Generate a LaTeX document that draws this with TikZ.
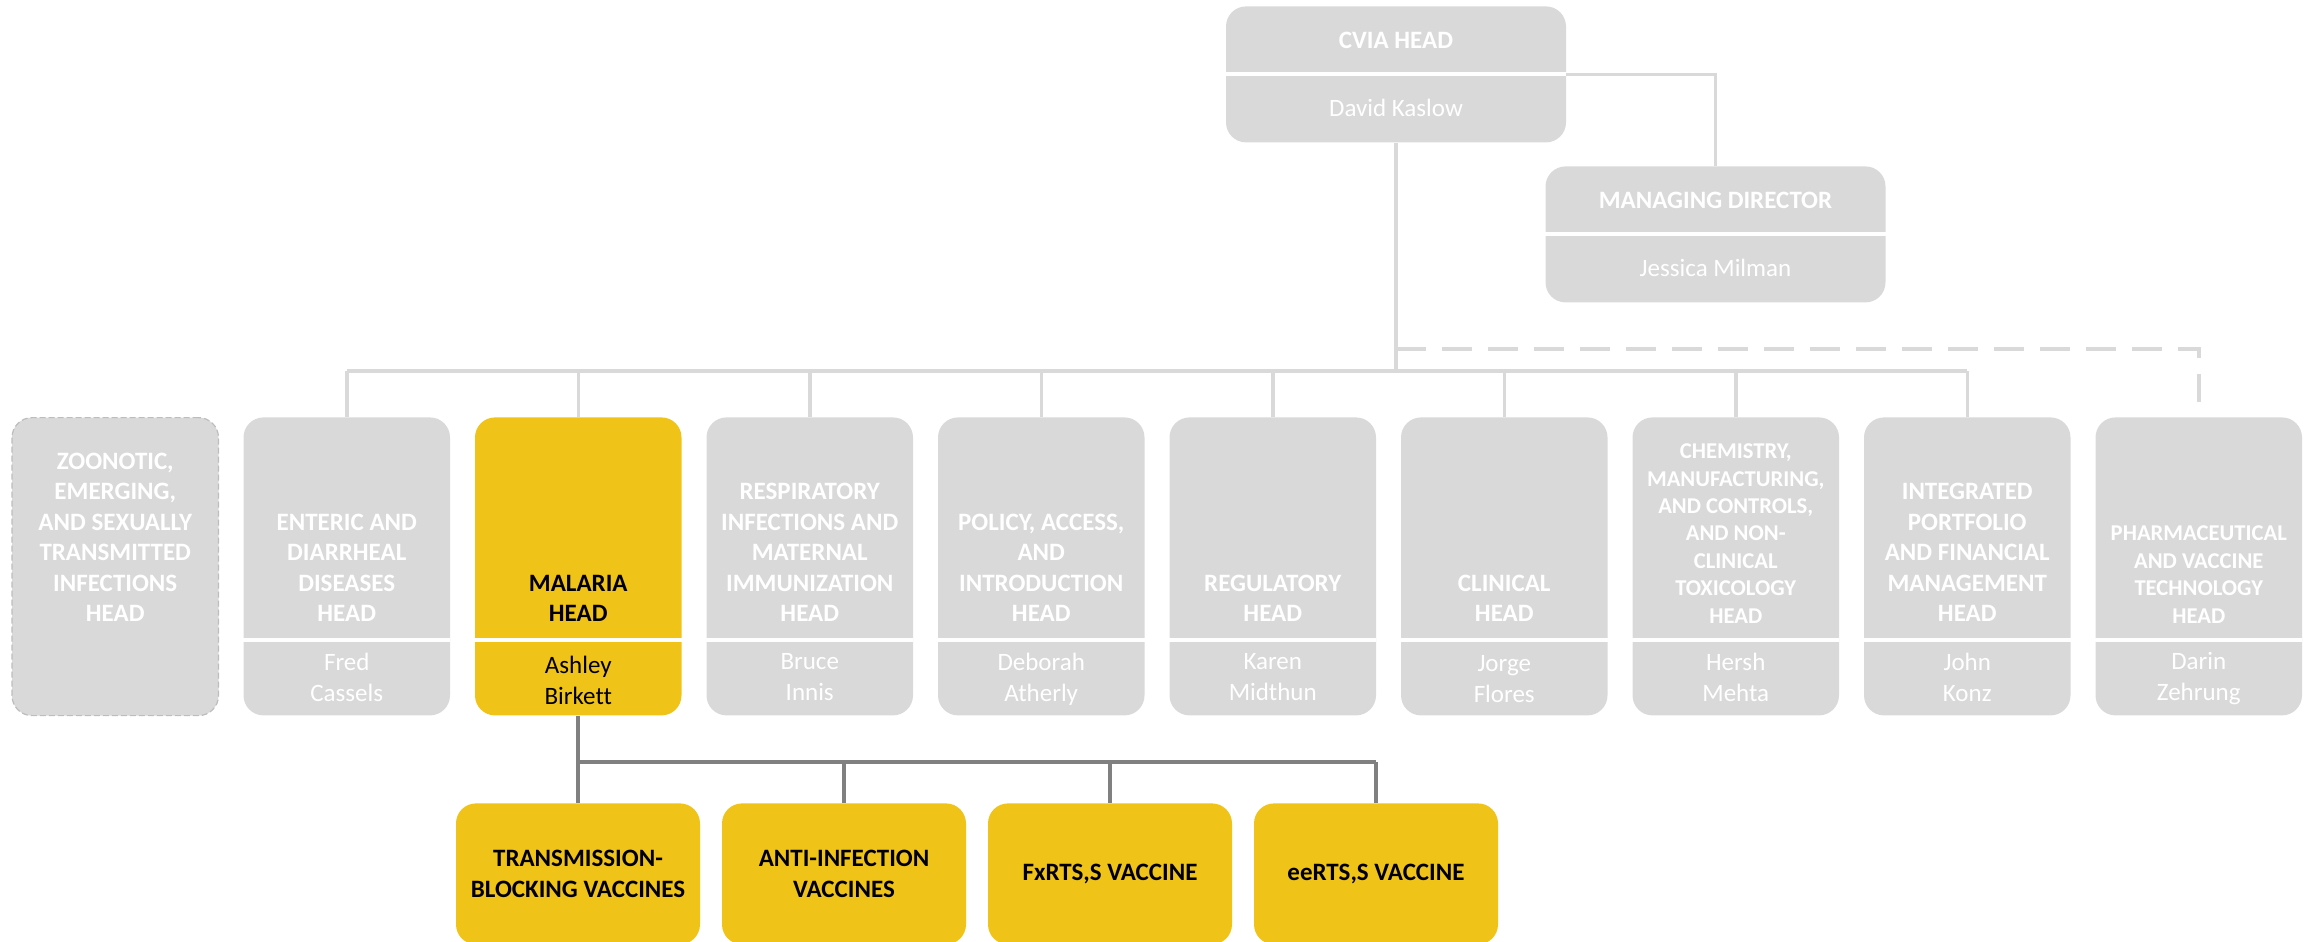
\documentclass[tikz,border=0pt]{standalone}
\usepackage{fontspec}
\setmainfont[Ligatures=NoCommon]{Carlito}
\definecolor{boxgray}{HTML}{D9D9D9}
\definecolor{malyellow}{HTML}{F0C319}
\definecolor{childline}{HTML}{808080}
\definecolor{dashborder}{HTML}{BDBDBD}
\newcommand{\hdfont}{\fontsize{12.5}{15.25}\selectfont\bfseries}
\newcommand{\hdsmall}{\fontsize{11.3}{13.7}\selectfont\bfseries}
\newcommand{\nmfont}{\fontsize{12.5}{15.5}\selectfont}
\begin{document}
\begin{tikzpicture}[x=0.5pt,y=-0.5pt,
  rowbox/.style={fill=boxgray, draw=none, rounded corners=10pt, minimum width=103.25pt, minimum height=149pt, inner sep=0pt, anchor=north},
  malbox/.style={rowbox, fill=malyellow},
  zoobox/.style={rowbox, draw=dashborder, line width=0.6pt, dash pattern=on 3pt off 1.5pt},
  topbox/.style={fill=boxgray, draw=none, rounded corners=10pt, minimum width=170pt, minimum height=68pt, inner sep=0pt, anchor=north},
  childbox/.style={fill=malyellow, draw=none, rounded corners=10pt, minimum width=122pt, minimum height=70.5pt, inner sep=0pt, anchor=north},
  hd/.style={anchor=south, inner sep=0pt, align=center, font=\hdfont, text=white},
  hdsm/.style={hd, font=\hdsmall},
  nm/.style={inner sep=0pt, align=center, font=\nmfont, text=white},
  ttl/.style={inner sep=0pt, align=center, font=\hdfont, text=white},
  childtxt/.style={inner sep=0pt, align=center, font=\hdfont, text=black},
  divider/.style={white, line width=2pt},
  conn/.style={boxgray, line width=1.75pt},
  dashconn/.style={boxgray, line width=1.75pt, dash pattern=on 15pt off 8pt},
  childconn/.style={childline, line width=2pt}
]
\useasboundingbox (0,0) rectangle (2313,942);

% helper coordinates
\coordinate (busy) at (0,371);
\coordinate (dashy) at (0,349);
\coordinate (dashend) at (0,402);
\coordinate (divy) at (0,640);
\coordinate (cbusy) at (0,762);

% top boxes
\node[topbox] (cvia) at (1396,6) {};
\draw[divider] (cvia.west |- 0,74) -- (cvia.east |- 0,74);
\node[ttl] (cviat) at (1396,40) {CVIA HEAD};
\node[nm] (cvian) at (1396,108) {David Kaslow};

\node[topbox] (md) at (1715.5,166) {};
\draw[divider] (md.west |- 0,234) -- (md.east |- 0,234);
\node[ttl] (mdt) at (1715.5,200) {MANAGING DIRECTOR};
\node[nm] (mdn) at (1715.5,268) {Jessica Milman};

% row boxes
\node[zoobox] (b1) at (115.25,417) {};
\node[rowbox] (b2) at (346.75,417) {};
\node[malbox] (b3) at (578.25,417) {};
\node[rowbox] (b4) at (809.75,417) {};
\node[rowbox] (b5) at (1041.25,417) {};
\node[rowbox] (b6) at (1272.75,417) {};
\node[rowbox] (b7) at (1504.25,417) {};
\node[rowbox] (b8) at (1735.75,417) {};
\node[rowbox] (b9) at (1967.25,417) {};
\node[rowbox] (b10) at (2198.75,417) {};

\foreach \b in {b2,b3,b4,b5,b6,b7,b8,b9,b10}{
  \draw[divider] (\b.west |- divy) -- (\b.east |- divy);
}

% header texts
\node[hd] (t1) at (115.25,622) {ZOONOTIC,\\EMERGING,\\AND SEXUALLY\\TRANSMITTED\\INFECTIONS\\HEAD};
\node[hd] (t2) at (346.75,622) {ENTERIC AND\\DIARRHEAL\\DISEASES\\HEAD};
\node[hd, text=black] (t3) at (578.25,622) {MALARIA\\HEAD};
\node[hd] (t4) at (809.75,622) {RESPIRATORY\\INFECTIONS AND\\MATERNAL\\IMMUNIZATION\\HEAD};
\node[hd] (t5) at (1041.25,622) {POLICY, ACCESS,\\AND\\INTRODUCTION\\HEAD};
\node[hd] (t6) at (1272.75,622) {REGULATORY\\HEAD};
\node[hd] (t7) at (1504.25,622) {CLINICAL\\HEAD};
\node[hdsm] (t8) at (1735.75,623.5) {CHEMISTRY,\\MANUFACTURING,\\AND CONTROLS,\\AND NON-\\CLINICAL\\TOXICOLOGY\\HEAD};
\node[hd] (t9) at (1967.25,622) {INTEGRATED\\PORTFOLIO\\AND FINANCIAL\\MANAGEMENT\\HEAD};
\node[hdsm] (t10) at (2198.75,623.5) {PHARMACEUTICAL\\AND VACCINE\\TECHNOLOGY\\HEAD};

% names
\node[nm] (n2) at (346.75,677.5) {Fred\\Cassels};
\node[nm, text=black] (n3) at (578.25,680) {Ashley\\Birkett};
\node[nm] (n4) at (809.75,677.5) {Bruce\\Innis};
\node[nm] (n5) at (1041.25,679) {Deborah\\Atherly};
\node[nm] (n6) at (1272.75,677.5) {Karen\\Midthun};
\node[nm] (n7) at (1504.25,679) {Jorge\\Flores};
\node[nm] (n8) at (1735.75,677.5) {Hersh\\Mehta};
\node[nm] (n9) at (1967.25,677.5) {John\\Konz};
\node[nm] (n10) at (2198.75,679) {Darin\\Zehrung};

% child boxes
\node[childbox] (c1) at (578,803) {};
\node[childbox] (c2) at (844,803) {};
\node[childbox] (c3) at (1110,803) {};
\node[childbox] (c4) at (1376,803) {};
\node[childtxt] (ct1) at (c1) {TRANSMISSION-\\BLOCKING VACCINES};
\node[childtxt] (ct2) at (c2) {ANTI-INFECTION\\VACCINES};
\node[childtxt] (ct3) at (c3) {FxRTS,S VACCINE};
\node[childtxt] (ct4) at (c4) {eeRTS,S VACCINE};

% connectors (top)
\draw[conn] (cvia.east) -| (md.north);
\draw[conn] (cvia.south) -- (cvia.south |- busy);
\draw[conn] (b2.north |- busy) -- (b9.north |- busy);
\foreach \b in {b2,b3,b4,b5,b6,b7,b8,b9}{
  \draw[conn] (\b.north |- busy) -- (\b.north);
}
\draw[dashconn] (cvia.south |- dashy) -- (b10.north |- dashy) -- (b10.north |- dashend);

% connectors (malaria children)
\draw[childconn] (b3.south) -- (b3.south |- cbusy);
\draw[childconn] (c1.north |- cbusy) -- (c4.north |- cbusy);
\foreach \c in {c1,c2,c3,c4}{
  \draw[childconn] (\c.north |- cbusy) -- (\c.north);
}
\end{tikzpicture}
\end{document}
